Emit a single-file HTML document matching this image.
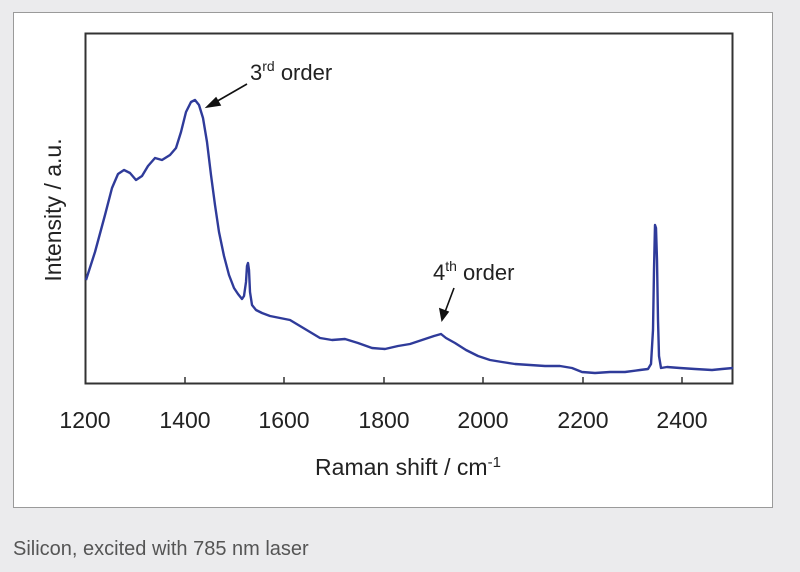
<!DOCTYPE html>
<html><head><style>
body{margin:0;background:#ebebed;width:800px;height:572px;overflow:hidden;font-family:"Liberation Sans","DejaVu Sans",sans-serif}
</style></head><body>
<svg width="800" height="572" viewBox="0 0 800 572" xmlns="http://www.w3.org/2000/svg" style="position:absolute;left:0;top:0">
<rect x="13.5" y="12.5" width="759" height="495" fill="#fff" stroke="#9a9a9a" stroke-width="1"/>
<rect x="85.5" y="33.5" width="647" height="350" fill="#fff" stroke="#333" stroke-width="2"/>
<g stroke="#333" stroke-width="1.5">
<line x1="185" y1="383" x2="185" y2="377"/><line x1="284" y1="383" x2="284" y2="377"/><line x1="384" y1="383" x2="384" y2="377"/><line x1="483" y1="383" x2="483" y2="377"/><line x1="583" y1="383" x2="583" y2="377"/><line x1="682" y1="383" x2="682" y2="377"/>
</g>
<polyline fill="none" stroke="#2f3b9a" stroke-width="2.4" stroke-linejoin="round" points="86,280 95,252 105,215 112,188 118,174 124,170 130,173 136,180 142,176 148,166 155,158 162,160 170,155 176,148 181,132 186,112 191,102 195,100 199,105 203,118 207,142 211,175 215,205 219,232 224,256 229,275 234,288 238,294 242,299 244,296 246,282 247,266 248,263 249,270 250,292 252,305 256,310 262,313 270,316 280,318 290,320 300,326 310,332 320,338 332,340 345,339 358,343 372,348 385,349 398,346 410,344 422,340 434,336 441,334 446,338 455,343 466,350 478,356 490,360 502,362 515,364 530,365 545,366 560,366 572,368 582,372 595,373 610,372 625,372 640,370 648,369 651,364 653,330 654,270 655,225 656,228 657,260 658,320 659,356 661,368 667,367 680,368 695,369 712,370 722,369 733,368"/>
<g font-size="23" fill="#222">
<text x="85" y="428" text-anchor="middle">1200</text><text x="185" y="428" text-anchor="middle">1400</text><text x="284" y="428" text-anchor="middle">1600</text><text x="384" y="428" text-anchor="middle">1800</text><text x="483" y="428" text-anchor="middle">2000</text><text x="583" y="428" text-anchor="middle">2200</text><text x="682" y="428" text-anchor="middle">2400</text>
<text x="408" y="475" text-anchor="middle" font-size="23">Raman shift / cm<tspan font-size="15" dy="-8">-1</tspan></text>
<text transform="translate(61,210) rotate(-90)" text-anchor="middle" font-size="23">Intensity / a.u.</text>
<text x="250" y="80" font-size="22">3<tspan font-size="14" dy="-9">rd</tspan><tspan dy="9"> order</tspan></text>
<text x="433" y="280" font-size="22">4<tspan font-size="14" dy="-9">th</tspan><tspan dy="9"> order</tspan></text>
</g>
<g stroke="#111" stroke-width="1.6" fill="#111">
<line x1="247" y1="84" x2="214" y2="103"/><polygon points="207,107 216,98 220,105"/>
<line x1="454" y1="288" x2="445" y2="312"/><polygon points="442,320 440,309 448,312"/>
</g>
<text x="13" y="555" font-size="20" fill="#555">Silicon, excited with 785 nm laser</text>
</svg>
</body></html>
